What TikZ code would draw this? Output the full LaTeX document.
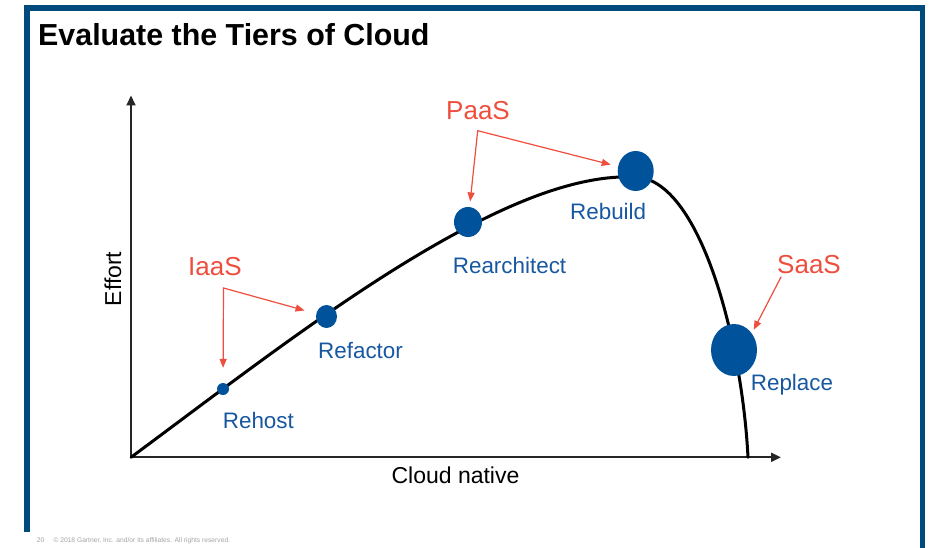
\documentclass[tikz,border=0pt]{standalone}
\usepackage{fontspec}
\setmainfont{Liberation Sans}
\usetikzlibrary{arrows.meta}
\usetikzlibrary{shapes.geometric}
\definecolor{frameblue}{RGB}{0,74,125}
\definecolor{dotblue}{RGB}{0,82,155}
\definecolor{stepblue}{RGB}{24,88,160}
\definecolor{tierred}{RGB}{238,78,62}
\definecolor{footgray}{RGB}{165,165,165}
\tikzset{
  tierdot/.style={ellipse,fill=dotblue,inner sep=0pt},
  steplabel/.style={anchor=base west,inner sep=0pt,text=stepblue,font=\fontsize{22.4}{26}\selectfont},
  tierlabel/.style={anchor=base west,inner sep=0pt,text=tierred,font=\fontsize{26}{30}\selectfont},
  tierarrow/.style={draw=tierred,line width=1.2pt,-{Triangle[length=9pt,width=7pt]}},
  axisline/.style={draw=black!85,line width=2pt,-{Triangle[length=10pt,width=9pt]}}
}
\begin{document}
\begin{tikzpicture}[line cap=round,line join=round,x=1pt,y=-1pt]
\useasboundingbox (0,0) rectangle (936,548);
\fill[white] (0,0) rectangle (936,548);
\draw[frameblue,line width=5.5pt,line cap=butt,line join=miter] (27,532) -- (27,8) -- (922.5,8) -- (922.5,548);
\node[anchor=base west,inner sep=0pt,font=\bfseries\fontsize{30.4}{34}\selectfont] (title) at (38,45.5) {Evaluate the Tiers of Cloud};
\coordinate (origin) at (131,457.3);
\coordinate (ytip) at (131,95.5);
\coordinate (xtip) at (781,457.3);
\draw[axisline] (origin) -- (ytip);
\draw[axisline] (origin) -- (xtip);
\node[rotate=90,inner sep=0pt,font=\fontsize{23}{26}\selectfont] (ylabel) at (113,279) {Effort};
\node[anchor=base,inner sep=0pt,font=\fontsize{23}{26}\selectfont] (xlabel) at (455.5,483.3) {Cloud native};
\draw[line width=3pt] (origin) .. controls (241,375.9) and (359,283.6) .. (469,226.4)
  .. controls (529,195.2) and (586,174.65) .. (636,177)
  .. controls (700,180) and (742,340) .. (748,457.3);
\node[tierdot,minimum width=12pt,minimum height=12pt] (rehost) at (223,389) {};
\node[tierdot,minimum width=21pt,minimum height=23pt] (refactor) at (326.5,316.5) {};
\node[tierdot,minimum width=28pt,minimum height=30pt] (rearchitect) at (468,222) {};
\node[tierdot,minimum width=36pt,minimum height=40pt] (rebuild) at (635.7,171) {};
\node[tierdot,minimum width=46pt,minimum height=52pt] (replace) at (734,350) {};
\node[steplabel] (rehostlbl) at (222.7,428) {Rehost};
\node[steplabel] (refactorlbl) at (318,358.3) {Refactor};
\node[steplabel] (rearchitectlbl) at (452.7,273) {Rearchitect};
\node[steplabel] (rebuildlbl) at (570,219) {Rebuild};
\node[steplabel] (replacelbl) at (750.7,390) {Replace};
\node[tierlabel] (iaas) at (188,275) {IaaS};
\node[tierlabel] (paas) at (446,119.3) {PaaS};
\node[tierlabel] (saas) at (777,273.3) {SaaS};
\coordinate (iaasfork) at (223.5,288);
\coordinate (paasfork) at (477.7,130.7);
\coordinate (saasfoot) at (781,277);
\draw[tierarrow,shorten >=15pt] (iaasfork) -- (rehost);
\draw[tierarrow,shorten >=12pt] (iaasfork) -- (refactor);
\draw[tierarrow,shorten >=5.5pt] (paasfork) -- (rearchitect);
\draw[tierarrow,shorten >=7.5pt] (paasfork) -- (rebuild);
\draw[tierarrow,shorten >=4pt] (saasfoot) -- (replace.43);
\node[anchor=base west,inner sep=0pt,text=footgray,font=\fontsize{6.7}{7}\selectfont] (pagenum) at (36.7,542.7) {20};
\node[anchor=base west,inner sep=0pt,text=footgray,font=\fontsize{6.7}{7}\selectfont] (copyright) at (53.3,542.7) {\textcopyright{} 2018 Gartner, Inc. and/or its affiliates. All rights reserved.};
\end{tikzpicture}
\end{document}
